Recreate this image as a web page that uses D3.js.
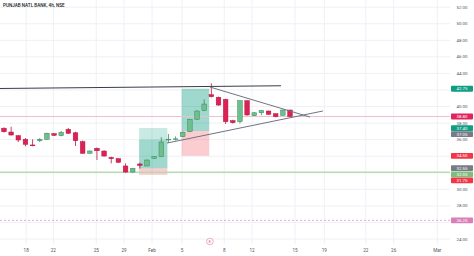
<!DOCTYPE html>
<html><head><meta charset="utf-8">
<script src="https://cdn.jsdelivr.net/npm/d3@7"></script>
<style>html,body{margin:0;padding:0;background:#fff;}svg{display:block;font-family:Roboto,"Liberation Sans",sans-serif;}</style>
</head><body><svg id="c" width="474" height="256"></svg>
<script>
const title = "PUNJAB NATL BANK, 4h, NSE";
// candles: [open, high, low, close]
const opens  = [37.37,36.92,36.48,36.04,35.36,35.87,36.04,36.72,36.48,37.25,36.83,35.75,34.35,34.95,34.63,33.85,33.70,32.82,32.09,33.06,32.82,33.75,33.94,36.00,36.04,36.36,36.96,38.46,39.50,41.43,41.11,40.87,38.29,38.17,40.70,38.89,39.25,39.46,39.13,38.94,39.58];
const highs  = [37.50,37.56,36.55,36.20,36.04,36.20,36.85,36.80,37.05,37.40,36.95,35.90,34.70,35.05,34.70,33.95,33.75,33.14,32.60,33.20,33.60,34.00,36.30,36.68,36.40,37.00,38.50,39.55,40.87,42.80,41.20,40.95,38.40,40.75,40.75,39.30,39.60,39.50,39.15,39.65,39.62];
const lows   = [36.85,36.50,35.71,35.20,35.20,35.70,35.98,36.45,36.40,36.70,35.23,34.30,34.30,33.54,33.95,33.14,33.20,32.00,32.00,32.50,32.80,33.70,33.90,35.60,35.90,36.30,36.90,38.40,39.45,41.10,40.10,37.89,37.95,37.95,38.90,38.85,38.95,39.00,38.70,38.90,38.75];
const closes = [36.96,36.56,35.96,35.44,35.30,36.04,36.77,36.52,36.89,36.77,35.87,34.35,34.63,34.66,34.02,33.70,33.26,32.09,32.54,32.90,33.54,33.94,35.71,36.06,36.10,36.89,38.46,39.46,40.30,41.19,40.18,38.17,38.05,40.70,38.98,39.25,39.50,39.06,38.77,39.58,38.80];
// x axis ticks (candle index positions) and labels
const xTickIdx = [3.1,6.9,12.9,16.8,20.7,24.9,30.8,34.7,40.7,44.8,50.6,54.5,60.6];
const xTickLabels = ["18","22","25","29","Feb","5","8","12","15","19","22","26","Mar"];
// price ticks
const yTicks = [52,50,48,46,44,42,40,38,36,34,32,30,28,26,24];
// long position tools: [startIdx, endIdx, stop, entry, reached, target]
const pos1 = [18.9, 22.85, 31.75, 32.55, 36.0, 37.40];
const pos2 = [24.85, 28.7, 34.05, 37.05, 42.15, 42.15];
// trend lines as [index, price] pairs
const lineTop = [[-0.56, 42.18], [38.74, 42.51]];
const triUpper = [[28.8, 42.36], [42.8, 38.73]];
const triLower = [[22.8, 35.59], [44.6, 39.46]];
// horizontal levels
const lastPrice = 38.80;
const supportLevel = 32.05;
const dashedLevel = 26.25;
// price scale labels
const priceLabels = [
  {v:42.15, t:"42.75", c:"#0f9d84"},
  {v:38.80, t:"38.80", c:"#e0245e"},
  {v:37.40, t:"37.40", c:"#0f9d84"},
  {v:37.05, t:"37.05", c:"#787b86"},
  {v:34.05, t:"34.50", c:"#f23645"},
  {v:32.55, t:"32.55", c:"#787b86"},
  {v:32.05, t:"32.05", c:"#7cbf7c"},
  {v:31.75, t:"31.75", c:"#f23645"},
  {v:26.25, t:"26.25", c:"#d97fb8"}
];
const eventIdx = 28.8;

const svg = d3.select("#c");
const W = 474, H = 256, plotR = 450, plotB = 244;
const x = d3.scaleLinear().domain([0, 40]).range([4, 290]);
const y = d3.scaleLinear().domain([24, 52]).range([239, 7.2]);

// grid
svg.append("g").selectAll("line").data(xTickIdx).join("line")
  .attr("x1", d => x(d)).attr("x2", d => x(d)).attr("y1", 0).attr("y2", plotB)
  .attr("stroke", "#eef0f5").attr("stroke-width", 1);
svg.append("g").selectAll("line").data(yTicks).join("line")
  .attr("x1", 0).attr("x2", plotR).attr("y1", d => y(d)).attr("y2", d => y(d))
  .attr("stroke", "#eef0f5").attr("stroke-width", 1);

// position boxes
function posBox(p) {
  const g = svg.append("g");
  const x0 = x(p[0]), x1 = x(p[1]);
  g.append("rect").attr("x", x0).attr("width", x1 - x0)
    .attr("y", y(p[3])).attr("height", y(p[2]) - y(p[3])).attr("fill", "rgba(242,54,69,0.25)");
  g.append("rect").attr("x", x0).attr("width", x1 - x0)
    .attr("y", y(p[5])).attr("height", y(p[3]) - y(p[5])).attr("fill", "rgba(8,153,129,0.22)");
  g.append("rect").attr("x", x0).attr("width", x1 - x0)
    .attr("y", y(p[4])).attr("height", y(p[3]) - y(p[4])).attr("fill", "rgba(8,153,129,0.22)");
}
posBox(pos1);
posBox(pos2);

// horizontal levels
svg.append("line").attr("x1", 0).attr("x2", plotR).attr("y1", y(lastPrice)).attr("y2", y(lastPrice))
  .attr("stroke", "#f1bfcf").attr("stroke-width", 1);
svg.append("line").attr("x1", 0).attr("x2", plotR).attr("y1", y(supportLevel)).attr("y2", y(supportLevel))
  .attr("stroke", "#b5dcae").attr("stroke-width", 1.5);
svg.append("line").attr("x1", 0).attr("x2", plotR).attr("y1", y(dashedLevel)).attr("y2", y(dashedLevel))
  .attr("stroke", "#d49ac0").attr("stroke-width", 0.8).attr("stroke-dasharray", "2,2");

// candles
const cw = 4.6;
const candles = opens.map((o, i) => ({i, o, h: highs[i], l: lows[i], c: closes[i]}));
const cg = svg.append("g").selectAll("g").data(candles).join("g");
const upFill = "#6fbf8c", upStroke = "#3b8a5a", dnFill = "#dc2156", dnStroke = "#b8143f";
cg.append("line").attr("x1", d => x(d.i)).attr("x2", d => x(d.i))
  .attr("y1", d => y(d.h)).attr("y2", d => y(d.l))
  .attr("stroke", d => d.c >= d.o ? upStroke : dnStroke).attr("stroke-width", 0.8);
cg.append("rect").attr("x", d => x(d.i) - cw / 2).attr("width", cw)
  .attr("y", d => y(Math.max(d.o, d.c)))
  .attr("height", d => Math.max(0.8, Math.abs(y(d.o) - y(d.c))))
  .attr("fill", d => d.c >= d.o ? upFill : dnFill)
  .attr("stroke", d => d.c >= d.o ? upStroke : dnStroke).attr("stroke-width", 0.5);

// trend lines
const lg = d3.line().x(d => x(d[0])).y(d => y(d[1]));
svg.append("path").attr("d", lg(lineTop)).attr("stroke", "#3a3d46").attr("stroke-width", 1).attr("fill", "none");
svg.append("path").attr("d", lg(triUpper)).attr("stroke", "#6f7480").attr("stroke-width", 1).attr("fill", "none");
svg.append("path").attr("d", lg(triLower)).attr("stroke", "#6f7480").attr("stroke-width", 1).attr("fill", "none");

// event marker
svg.append("circle").attr("cx", x(eventIdx)).attr("cy", 241.5).attr("r", 3.3)
  .attr("fill", "#fff").attr("stroke", "#e88aa8").attr("stroke-width", 0.7);
svg.append("text").attr("x", x(eventIdx)).attr("y", 243).attr("text-anchor", "middle")
  .attr("font-size", 3.8).attr("fill", "#e0457a").text("E");

// title
svg.append("text").attr("x", 3).attr("y", 7).attr("font-size", 4.6).attr("fill", "#131722")
  .attr("font-weight", 500).text(title);

// x axis labels
svg.append("g").selectAll("text").data(xTickIdx).join("text")
  .attr("x", d => x(d)).attr("y", 252).attr("text-anchor", "middle")
  .attr("font-size", 4.6).attr("fill", "#50535e").text((d, i) => xTickLabels[i]);

// y axis labels with collision resolution
const lx = 462, lh = 5.8;
const placed = priceLabels.map(p => ({...p, py: y(p.v)})).sort((a, b) => a.py - b.py);
for (let k = 1; k < placed.length; k++) {
  if (placed[k].py < placed[k - 1].py + lh + 0.3) placed[k].py = placed[k - 1].py + lh + 0.3;
}
const visibleTicks = yTicks.filter(t => !placed.some(p => Math.abs(p.py - y(t)) < 4.8));
svg.append("g").selectAll("text").data(visibleTicks).join("text")
  .attr("x", lx).attr("y", d => y(d) + 1.5).attr("text-anchor", "middle")
  .attr("font-size", 4.4).attr("fill", "#50535e").text(d => d.toFixed(2));
const pl = svg.append("g").selectAll("g").data(placed).join("g");
pl.append("rect").attr("x", 451).attr("width", 22).attr("y", d => d.py - lh / 2).attr("height", lh)
  .attr("rx", 0.8).attr("fill", d => d.c);
pl.append("text").attr("x", lx).attr("y", d => d.py + 1.5).attr("text-anchor", "middle")
  .attr("font-size", 4.4).attr("fill", "#fff").text(d => d.t);
</script></body></html>
